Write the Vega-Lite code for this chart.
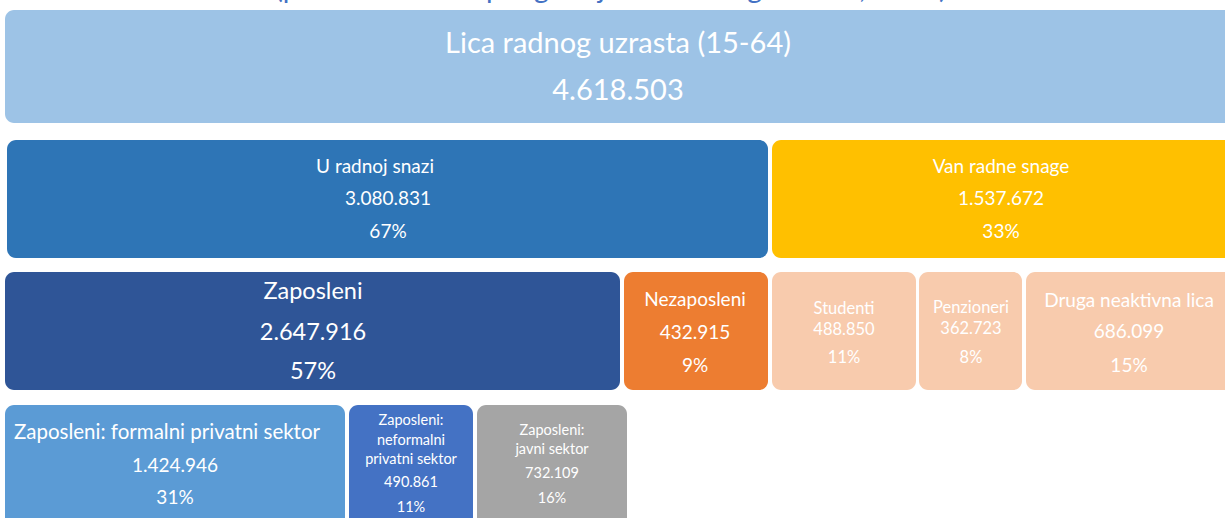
{
  "$schema": "https://vega.github.io/schema/vega-lite/v6.json",
  "width": 1225,
  "height": 518,
  "autosize": "none",
  "padding": 0,
  "background": "white",
  "config": {"view": {"stroke": null}, "text": {"font": "Lato"}},
  "datasets": {
    "boxes": [
      {"box": "Lica radnog uzrasta", "x0": 5, "x1": 1240, "y0": 10, "y1": 123},
      {"box": "U radnoj snazi", "x0": 7, "x1": 768, "y0": 140, "y1": 258},
      {"box": "Van radne snage", "x0": 772, "x1": 1240, "y0": 140, "y1": 258},
      {"box": "Zaposleni", "x0": 5, "x1": 620, "y0": 272, "y1": 390},
      {"box": "Nezaposleni", "x0": 624, "x1": 768, "y0": 272, "y1": 390},
      {"box": "Studenti", "x0": 772, "x1": 916, "y0": 272, "y1": 390},
      {"box": "Penzioneri", "x0": 919, "x1": 1022, "y0": 272, "y1": 390},
      {"box": "Druga neaktivna lica", "x0": 1026, "x1": 1240, "y0": 272, "y1": 390},
      {"box": "Formalni privatni", "x0": 5, "x1": 345, "y0": 405, "y1": 530},
      {"box": "Neformalni privatni", "x0": 349, "x1": 473, "y0": 405, "y1": 530},
      {"box": "Javni sektor", "x0": 477, "x1": 627, "y0": 405, "y1": 530}
    ],
    "labels": [
      {"t": "Lica radnog uzrasta (15-64)", "tx": 618, "ty": 44, "tier": "xl"},
      {"t": "4.618.503", "tx": 618, "ty": 91, "tier": "xl"},
      {"t": "U radnoj snazi", "tx": 375, "ty": 167, "tier": "m"},
      {"t": "3.080.831", "tx": 388, "ty": 199, "tier": "m"},
      {"t": "67%", "tx": 388, "ty": 232, "tier": "m"},
      {"t": "Van radne snage", "tx": 1001, "ty": 167, "tier": "m"},
      {"t": "1.537.672", "tx": 1001, "ty": 199, "tier": "m"},
      {"t": "33%", "tx": 1001, "ty": 232, "tier": "m"},
      {"t": "Zaposleni", "tx": 313, "ty": 292, "tier": "l"},
      {"t": "2.647.916", "tx": 313, "ty": 333, "tier": "l"},
      {"t": "57%", "tx": 313, "ty": 372, "tier": "l"},
      {"t": "Nezaposleni", "tx": 695, "ty": 300, "tier": "m"},
      {"t": "432.915", "tx": 695, "ty": 333, "tier": "m"},
      {"t": "9%", "tx": 695, "ty": 366, "tier": "m"},
      {"t": "Studenti", "tx": 844, "ty": 309, "tier": "s"},
      {"t": "488.850", "tx": 844, "ty": 330, "tier": "s"},
      {"t": "11%", "tx": 844, "ty": 358, "tier": "s"},
      {"t": "Penzioneri", "tx": 971, "ty": 308, "tier": "s"},
      {"t": "362.723", "tx": 971, "ty": 329, "tier": "s"},
      {"t": "8%", "tx": 971, "ty": 358, "tier": "s"},
      {"t": "Druga neaktivna lica", "tx": 1129, "ty": 301, "tier": "m"},
      {"t": "686.099", "tx": 1129, "ty": 332, "tier": "m"},
      {"t": "15%", "tx": 1129, "ty": 366, "tier": "m"},
      {"t": "Zaposleni: formalni privatni sektor", "tx": 167, "ty": 433, "tier": "m2"},
      {"t": "1.424.946", "tx": 175, "ty": 466, "tier": "m"},
      {"t": "31%", "tx": 175, "ty": 498, "tier": "m"},
      {"t": "Zaposleni:", "tx": 411, "ty": 421, "tier": "xs"},
      {"t": "neformalni", "tx": 411, "ty": 441, "tier": "xs"},
      {"t": "privatni sektor", "tx": 411, "ty": 460, "tier": "xs"},
      {"t": "490.861", "tx": 411, "ty": 483, "tier": "xs"},
      {"t": "11%", "tx": 411, "ty": 508, "tier": "xs"},
      {"t": "Zaposleni:", "tx": 552, "ty": 431, "tier": "xs"},
      {"t": "javni sektor", "tx": 552, "ty": 450, "tier": "xs"},
      {"t": "732.109", "tx": 552, "ty": 474, "tier": "xs"},
      {"t": "16%", "tx": 552, "ty": 499, "tier": "xs"}
    ],
    "title": [
      {"t": "(procenat od ukupnog broja lica radnog uzrasta, 2019)", "tx": 611, "ty": -2}
    ]
  },
  "encoding": {
    "x": {"field": "tx", "type": "quantitative", "scale": {"domain": [0, 1225], "nice": false, "zero": false}, "axis": null},
    "y": {"field": "ty", "type": "quantitative", "scale": {"domain": [0, 518], "nice": false, "zero": false, "reverse": true}, "axis": null},
    "text": {"field": "t"}
  },
  "layer": [
    {
      "data": {"name": "boxes"},
      "mark": {"type": "rect", "cornerRadius": 9, "clip": true},
      "encoding": {
        "x": {"field": "x0", "type": "quantitative", "scale": {"domain": [0, 1225], "nice": false, "zero": false}, "axis": null},
        "x2": {"field": "x1"},
        "y": {"field": "y0", "type": "quantitative", "scale": {"domain": [0, 518], "nice": false, "zero": false, "reverse": true}, "axis": null},
        "y2": {"field": "y1"},
        "text": null,
        "color": {
          "field": "box", "type": "nominal", "legend": null,
          "scale": {
            "domain": ["Lica radnog uzrasta", "U radnoj snazi", "Van radne snage", "Zaposleni", "Nezaposleni", "Studenti", "Penzioneri", "Druga neaktivna lica", "Formalni privatni", "Neformalni privatni", "Javni sektor"],
            "range": ["#9dc3e6", "#2e75b6", "#ffc000", "#2f5597", "#ed7d31", "#f8cbad", "#f8cbad", "#f8cbad", "#5b9bd5", "#4472c4", "#a5a5a5"]
          }
        }
      }
    },
    {
      "data": {"name": "labels"},
      "transform": [{"filter": "datum.tier == 'xl'"}],
      "mark": {"type": "text", "color": "white", "baseline": "middle", "align": "center", "fontSize": 29}
    },
    {
      "data": {"name": "labels"},
      "transform": [{"filter": "datum.tier == 'l'"}],
      "mark": {"type": "text", "color": "white", "baseline": "middle", "align": "center", "fontSize": 23.5}
    },
    {
      "data": {"name": "labels"},
      "transform": [{"filter": "datum.tier == 'm'"}],
      "mark": {"type": "text", "color": "white", "baseline": "middle", "align": "center", "fontSize": 19}
    },
    {
      "data": {"name": "labels"},
      "transform": [{"filter": "datum.tier == 'm2'"}],
      "mark": {"type": "text", "color": "white", "baseline": "middle", "align": "center", "fontSize": 20.5}
    },
    {
      "data": {"name": "labels"},
      "transform": [{"filter": "datum.tier == 's'"}],
      "mark": {"type": "text", "color": "white", "baseline": "middle", "align": "center", "fontSize": 16.5}
    },
    {
      "data": {"name": "labels"},
      "transform": [{"filter": "datum.tier == 'xs'"}],
      "mark": {"type": "text", "color": "white", "baseline": "middle", "align": "center", "fontSize": 14.5}
    },
    {
      "data": {"name": "title"},
      "mark": {"type": "text", "color": "#4472c4", "baseline": "alphabetic", "align": "center", "fontSize": 28.5, "clip": true}
    }
  ]
}
